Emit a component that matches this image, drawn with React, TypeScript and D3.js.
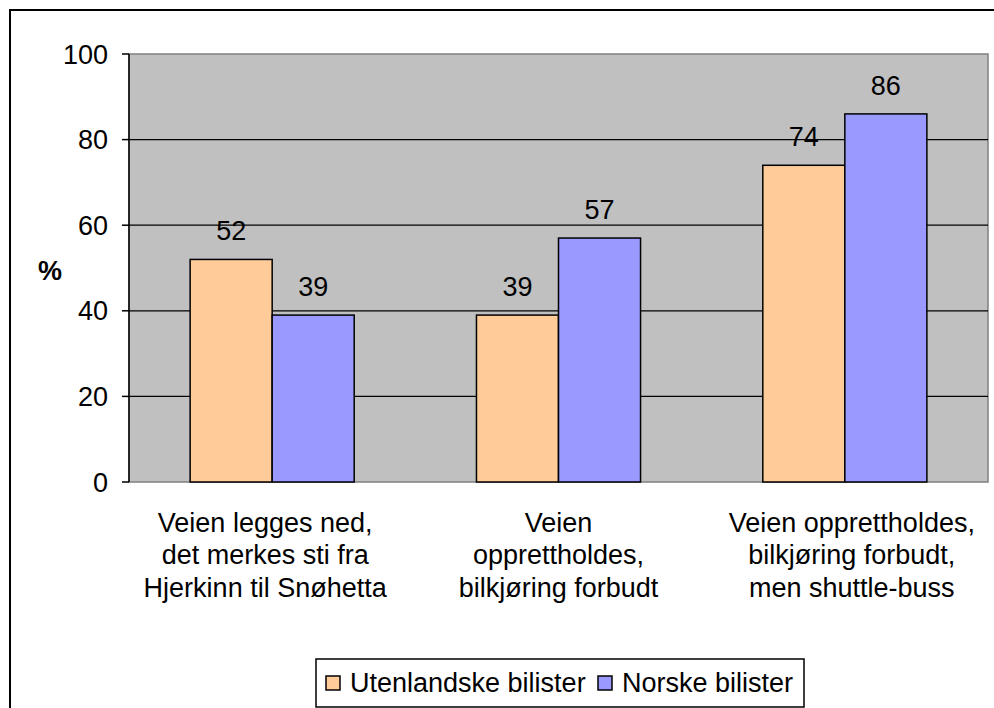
import React from "react";
import * as d3 from "d3";

const categories: string[][] = [
  ["Veien legges ned,", "det merkes sti fra", "Hjerkinn til Snøhetta"],
  ["Veien", "opprettholdes,", "bilkjøring forbudt"],
  ["Veien opprettholdes,", "bilkjøring forbudt,", "men shuttle-buss"],
];
const seriesNames = ["Utenlandske bilister", "Norske bilister"];
const utenlandske = [52, 39, 74];
const norske = [39, 57, 86];
const yTicks = [0, 20, 40, 60, 80, 100];
const colors = ["#FFCC99", "#9999FF"];

const W = 994;
const H = 708;
const plot = { left: 129, top: 54, right: 988, bottom: 482 };
const FONT = "'Liberation Sans', Arial, sans-serif";
const FS = 27;

export default function App() {
  const x = d3
    .scaleBand<number>()
    .domain(categories.map((_, i) => i))
    .range([plot.left, plot.right])
    .paddingInner(0)
    .paddingOuter(0);
  const y = d3.scaleLinear().domain([0, 100]).range([plot.bottom, plot.top]);
  const barW = x.bandwidth() * 0.2865;
  const series = [utenlandske, norske];

  return (
    <svg
      width={W}
      height={H}
      style={{ position: "absolute", left: 0, top: 0, display: "block" }}
      fontFamily={FONT}
    >
      <rect x={0} y={0} width={W} height={H} fill="#fff" />
      {/* outer frame */}
      <rect x={10} y={10} width={1100} height={800} fill="none" stroke="#000" strokeWidth={2} />
      {/* plot area */}
      <rect
        x={plot.left}
        y={plot.top}
        width={plot.right - plot.left}
        height={plot.bottom - plot.top}
        fill="#C0C0C0"
        stroke="#808080"
        strokeWidth={1.5}
      />
      {/* gridlines */}
      {yTicks
        .filter((t) => t !== 0 && t !== 100)
        .map((t) => (
          <line
            key={"g" + t}
            x1={plot.left}
            x2={plot.right}
            y1={y(t)}
            y2={y(t)}
            stroke="#000"
            strokeWidth={1.3}
          />
        ))}
      {/* bars */}
      {categories.map((_, i) => {
        const cx = (x(i) as number) + x.bandwidth() / 2;
        return series.map((s, j) => {
          const bx = cx - barW + j * barW;
          return (
            <g key={`b${i}-${j}`}>
              <rect
                x={bx}
                y={y(s[i])}
                width={barW}
                height={y(0) - y(s[i])}
                fill={colors[j]}
                stroke="#000"
                strokeWidth={1.5}
              />
              <text
                x={bx + barW / 2}
                y={y(s[i]) - 19}
                textAnchor="middle"
                fontSize={FS}
                fill="#000"
              >
                {s[i]}
              </text>
            </g>
          );
        });
      })}
      {/* y axis */}
      <line x1={plot.left} x2={plot.left} y1={plot.top} y2={plot.bottom} stroke="#000" strokeWidth={1.5} />
      {yTicks.map((t) => (
        <g key={"t" + t}>
          <line x1={plot.left - 7} x2={plot.left} y1={y(t)} y2={y(t)} stroke="#000" strokeWidth={1.5} />
          <text x={108} y={y(t) + 9.5} textAnchor="end" fontSize={FS} fill="#000">
            {t}
          </text>
        </g>
      ))}
      <text x={50} y={280} textAnchor="middle" fontSize={27} fontWeight="bold" fill="#000">
        %
      </text>
      {/* category labels */}
      {categories.map((lines, i) => {
        const cx = (x(i) as number) + x.bandwidth() / 2 + (i - 1) * 7;
        return (
          <text key={"c" + i} textAnchor="middle" fontSize={FS} fill="#000">
            {lines.map((l, k) => (
              <tspan key={k} x={cx} y={532 + k * 32.3}>
                {l}
              </tspan>
            ))}
          </text>
        );
      })}
      {/* legend */}
      <rect x={316} y={659} width={488} height={48} fill="#fff" stroke="#000" strokeWidth={1.5} />
      {seriesNames.map((n, j) => {
        const lx = j === 0 ? 326 : 598;
        return (
          <g key={"l" + j}>
            <rect x={lx} y={676} width={14} height={14} fill={colors[j]} stroke="#000" strokeWidth={1.5} />
            <text x={lx + 24} y={692} fontSize={FS} fill="#000">
              {n}
            </text>
          </g>
        );
      })}
    </svg>
  );
}
